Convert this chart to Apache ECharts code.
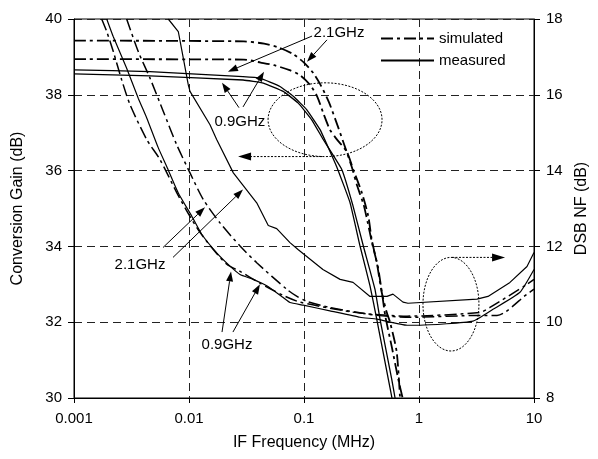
<!DOCTYPE html>
<html>
<head>
<meta charset="utf-8">
<script src="https://cdn.jsdelivr.net/npm/echarts@6/dist/echarts.min.js"></script>
<style>
html, body { margin: 0; padding: 0; background: #fff; }
#main { width: 598px; height: 459px; }
</style>
</head>
<body>
<div id="main"></div>
<script>
// x ticks (MHz) and their labels
var freqTicks = [0.001, 0.01, 0.1, 1, 10];
var freqTickLabels = ['0.001', '0.01', '0.1', '1', '10'];

// conversion gain (dB), [freq MHz, gain]
var gain21Sim = [[0.001, 39.43], [0.03, 39.41], [0.045, 39.35], [0.06, 39.25], [0.08, 39.08], [0.1, 38.85],
  [0.12, 38.58], [0.14, 38.25], [0.165, 37.8], [0.19, 37.3], [0.22, 36.75], [0.26, 36.1], [0.29, 35.6],
  [0.33, 35.1], [0.36, 34.6], [0.39, 34.1], [0.44, 33.45], [0.475, 32.8], [0.51, 32.15], [0.58, 31.35],
  [0.66, 30.5], [0.72, 30]];
var gain09Sim = [[0.001, 38.94], [0.03, 38.93], [0.042, 38.85], [0.055, 38.78], [0.075, 38.65], [0.092, 38.52],
  [0.113, 38.26], [0.13, 37.96], [0.147, 37.52], [0.168, 37.08], [0.19, 36.85], [0.235, 36.5], [0.268, 36.03],
  [0.318, 35.42], [0.362, 34.8], [0.388, 34.18], [0.429, 33.58], [0.474, 32.79], [0.524, 32.26], [0.56, 32.0],
  [0.64, 31.21], [0.684, 30]];
var gain21Meas = [[0.001, 38.66], [0.00458, 38.61], [0.0295, 38.48], [0.0414, 38.44], [0.0618, 38.22],
  [0.0807, 37.96], [0.1055, 37.61], [0.138, 37.08], [0.192, 36.11], [0.251, 35.16], [0.307, 34.01],
  [0.375, 32.96], [0.429, 32.08], [0.541, 30.5], [0.582, 30]];
var gain09Meas = [[0.001, 38.55], [0.00458, 38.5], [0.0295, 38.39], [0.0443, 38.31], [0.066, 38.09],
  [0.0892, 37.78], [0.1167, 37.34], [0.147, 36.82], [0.213, 36.03], [0.265, 35.1], [0.328, 34.01],
  [0.414, 32.87], [0.458, 32.08], [0.579, 30.5], [0.619, 30]];

// DSB noise figure (dB), [freq MHz, NF]
var nf21Meas = [[0.0066, 18], [0.00807, 17.67], [0.00892, 16.97], [0.00986, 16.26], [0.0102, 16.09],
  [0.01523, 15.21], [0.0174, 14.82], [0.0243, 13.94], [0.0388, 13.15], [0.0489, 12.55], [0.0579, 12.47],
  [0.0755, 12.1], [0.0887, 11.92], [0.146, 11.39], [0.206, 11.13], [0.267, 11.05], [0.375, 10.68],
  [0.527, 10.68], [0.594, 10.74], [0.726, 10.53], [0.802, 10.5], [3.19, 10.61], [3.98, 10.68],
  [6.18, 11.05], [8.69, 11.47], [10, 11.84]];
var nf09Meas = [[0.001925, 18], [0.002197, 17.53], [0.00287, 16.7], [0.00362, 15.91], [0.00429, 15.39],
  [0.00541, 14.6], [0.0064, 14.11], [0.00807, 13.41], [0.01056, 12.8], [0.0129, 12.32], [0.0174, 11.83],
  [0.02274, 11.48], [0.02776, 11.26], [0.0362, 11.13], [0.0474, 10.96], [0.066, 10.65], [0.0755, 10.52],
  [0.0986, 10.45], [0.168, 10.3], [0.307, 10.13], [0.431, 10.08], [0.787, 9.92], [1.02, 9.92],
  [2.95, 10.03], [4.4, 10.34], [7.55, 10.79], [10, 11.39]];
var nf09Sim = [[0.00174, 18], [0.001925, 17.67], [0.002197, 17.14], [0.0026, 16.39], [0.00307, 15.74],
  [0.00429, 14.82], [0.0056, 14.29], [0.00782, 13.42], [0.0102, 12.79], [0.01247, 12.37], [0.01575, 11.97],
  [0.0213, 11.53], [0.0278, 11.34], [0.0414, 11.03], [0.0657, 10.71], [0.0923, 10.53], [0.168, 10.37],
  [0.307, 10.24], [0.787, 10.16], [3.39, 10.26], [4.14, 10.39], [8.69, 11.0], [10, 11.13]];
var nf21Sim = [[0.00287, 18], [0.00362, 17.14], [0.00458, 16.44], [0.00598, 15.56], [0.00782, 14.68],
  [0.0102, 13.94], [0.0133, 13.24], [0.0186, 12.62], [0.0278, 12.01], [0.0388, 11.57], [0.0707, 10.87],
  [0.0869, 10.68], [0.106, 10.55], [0.168, 10.39], [0.289, 10.26], [0.431, 10.18], [0.835, 10.13],
  [3.39, 10.18], [4.77, 10.18], [8.69, 10.74], [10, 10.87]];

// annotations, in [freq, gain] coordinates
var labels = [
  { text: '2.1GHz', at: [0.2015, 39.63] },
  { text: '0.9GHz', at: [0.0277, 37.29] },
  { text: '2.1GHz', at: [0.00375, 33.5] },
  { text: '0.9GHz', at: [0.0214, 31.39] }
];
var arrows = [
  [[0.1175, 39.55], [0.0218, 38.61]],
  [[0.1585, 39.45], [0.1062, 38.87]],
  [[0.0272, 37.66], [0.01937, 38.32]],
  [[0.0295, 37.68], [0.0449, 38.61]],
  [[0.00594, 33.97], [0.01377, 35.03]],
  [[0.00726, 33.71], [0.0295, 35.5]],
  [[0.01937, 31.74], [0.0232, 33.34]],
  [[0.0241, 31.74], [0.0414, 33.0]]
];
var ellipses = [
  [[0.0487, 0.477], [36.37, 38.316]],
  [[1.083, 3.32], [31.24, 33.71]]
];
var dottedArrows = [
  [[0.1434, 36.37], [0.0267, 36.37]],
  [[1.936, 33.71], [5.6, 33.71]]
];

var FONT = '"Liberation Sans", Arial, sans-serif';
var dashDot = [12, 4, 3, 4];

var chartDom = document.getElementById('main');
var myChart = echarts.init(chartDom);

function lineSeries(name, data, yIndex, dashed, width) {
  return {
    name: name,
    type: 'line',
    yAxisIndex: yIndex,
    data: data,
    symbol: 'none',
    showSymbol: false,
    smooth: dashed ? 0.25 : 0.1,
    silent: true,
    animation: false,
    clip: true,
    itemStyle: { color: '#000' },
    lineStyle: { color: '#000', width: width, type: dashed ? dashDot : 'solid' }
  };
}

var option = {
  animation: false,
  backgroundColor: '#fff',
  grid: { left: 74, right: 64, top: 19, bottom: 61, show: true, borderColor: '#000', borderWidth: 1 },
  legend: {
    orient: 'vertical',
    left: 375,
    top: 26,
    itemWidth: 53,
    itemHeight: 14,
    itemGap: 7,
    itemStyle: { opacity: 0 },
    textStyle: { fontFamily: FONT, fontSize: 15, color: '#000' },
    data: ['simulated', 'measured']
  },
  xAxis: {
    type: 'log',
    logBase: 10,
    min: 0.001,
    max: 10,
    name: 'IF Frequency (MHz)',
    nameLocation: 'middle',
    nameGap: 37,
    nameTextStyle: { fontFamily: FONT, fontSize: 16, color: '#000' },
    axisLine: { lineStyle: { color: '#000', width: 1 } },
    axisTick: { show: true, length: 5, lineStyle: { color: '#000' } },
    axisLabel: {
      fontFamily: FONT, fontSize: 15, color: '#000', margin: 13,
      formatter: function (v) {
        for (var i = 0; i < freqTicks.length; i++) {
          if (Math.abs(Math.log10(v) - Math.log10(freqTicks[i])) < 1e-6) return freqTickLabels[i];
        }
        return '';
      }
    },
    minorTick: { show: false },
    splitLine: { show: true, lineStyle: { color: '#222', width: 1, type: [8, 5] } }
  },
  yAxis: [{
    type: 'value',
    min: 30,
    max: 40,
    interval: 2,
    position: 'left',
    name: 'Conversion Gain (dB)',
    nameLocation: 'middle',
    nameRotate: 90,
    nameGap: 48,
    nameTextStyle: { fontFamily: FONT, fontSize: 16, color: '#000' },
    axisLine: { show: true, lineStyle: { color: '#000', width: 1 } },
    axisTick: { show: true, length: 6, lineStyle: { color: '#000' } },
    axisLabel: { fontFamily: FONT, fontSize: 15, color: '#000', margin: 12 },
    splitLine: { show: true, lineStyle: { color: '#222', width: 1, type: [8, 5] } }
  }, {
    type: 'value',
    min: 8,
    max: 18,
    interval: 2,
    position: 'right',
    name: 'DSB NF (dB)',
    nameLocation: 'middle',
    nameRotate: 90,
    nameGap: 40,
    nameTextStyle: { fontFamily: FONT, fontSize: 16, color: '#000' },
    axisLine: { show: true, lineStyle: { color: '#000', width: 1 } },
    axisTick: { show: true, length: 6, lineStyle: { color: '#000' } },
    axisLabel: { fontFamily: FONT, fontSize: 15, color: '#000', margin: 12 },
    splitLine: { show: false }
  }],
  series: [
    lineSeries('simulated', [], 0, true, 1.5),
    lineSeries('measured', [], 0, false, 1.2),
    lineSeries('gain 2.1GHz sim', gain21Sim, 0, true, 1.8),
    lineSeries('gain 0.9GHz sim', gain09Sim, 0, true, 1.8),
    lineSeries('gain 2.1GHz meas', gain21Meas, 0, false, 1.3),
    lineSeries('gain 0.9GHz meas', gain09Meas, 0, false, 1.3),
    lineSeries('NF 2.1GHz meas', nf21Meas, 1, false, 1.2),
    lineSeries('NF 0.9GHz meas', nf09Meas, 1, false, 1.2),
    lineSeries('NF 0.9GHz sim', nf09Sim, 1, true, 1.5),
    lineSeries('NF 2.1GHz sim', nf21Sim, 1, true, 1.5)
  ]
};
option.series[2].smooth = 0.2;
option.series[6].smooth = false;
option.series[7].smooth = 0.15;

myChart.setOption(option);

// annotation graphics placed through the chart's own coordinate conversion
function px(p) {
  return myChart.convertToPixel({ xAxisIndex: 0, yAxisIndex: 0 }, p);
}
function arrowShapes(from, to, headLen, headHalf, dash) {
  var a = px(from), b = px(to);
  var dx = b[0] - a[0], dy = b[1] - a[1];
  var len = Math.sqrt(dx * dx + dy * dy);
  var ux = dx / len, uy = dy / len;
  var bx = b[0] - ux * headLen, by = b[1] - uy * headLen;
  return [{
    type: 'line',
    silent: true,
    shape: { x1: a[0], y1: a[1], x2: bx, y2: by },
    style: { stroke: '#000', lineWidth: 1, lineDash: dash || null }
  }, {
    type: 'polygon',
    silent: true,
    shape: { points: [[b[0], b[1]], [bx - uy * headHalf, by + ux * headHalf], [bx + uy * headHalf, by - ux * headHalf]] },
    style: { fill: '#000', stroke: null }
  }];
}

var graphics = [];
arrows.forEach(function (ar) {
  graphics = graphics.concat(arrowShapes(ar[0], ar[1], 10, 3.5));
});
dottedArrows.forEach(function (ar) {
  graphics = graphics.concat(arrowShapes(ar[0], ar[1], 13, 4, [2, 1.5]));
});
ellipses.forEach(function (el) {
  var p1 = px([el[0][0], el[1][1]]);
  var p2 = px([el[0][1], el[1][0]]);
  graphics.push({
    type: 'ellipse',
    silent: true,
    shape: { cx: (p1[0] + p2[0]) / 2, cy: (p1[1] + p2[1]) / 2, rx: (p2[0] - p1[0]) / 2, ry: (p2[1] - p1[1]) / 2 },
    style: { fill: 'none', stroke: '#000', lineWidth: 1, lineDash: [2, 1.5] }
  });
});
labels.forEach(function (lb) {
  var p = px(lb.at);
  graphics.push({
    type: 'text',
    silent: true,
    x: p[0],
    y: p[1],
    style: { text: lb.text, fill: '#000', font: '15px ' + FONT, align: 'center', verticalAlign: 'middle' }
  });
});

myChart.setOption({ graphic: graphics });
</script>
</body>
</html>
